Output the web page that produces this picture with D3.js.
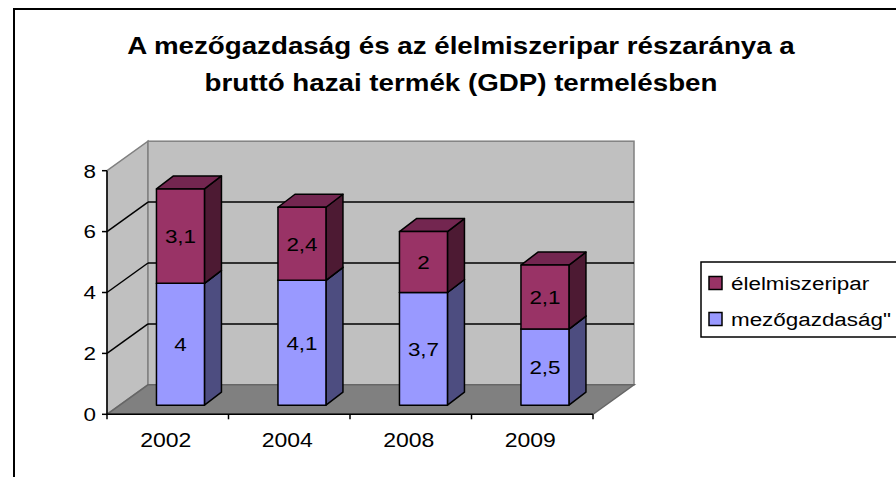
<!DOCTYPE html>
<html>
<head>
<meta charset="utf-8">
<script src="https://cdn.jsdelivr.net/npm/d3@7"></script>
<style>
  html, body { margin: 0; padding: 0; background: #fff; }
  svg { display: block; font-family: Arial, "Liberation Sans", sans-serif; }
</style>
</head>
<body>
<div id="chart"></div>
<script>
// adatok
const years = ["2002", "2004", "2008", "2009"];
const mezogazdasag = [4, 4.1, 3.7, 2.5];
const elelmiszeripar = [3.1, 2.4, 2, 2.1];
const seriesKeys = ["mezogazdasag", "elelmiszeripar"];
const legendLabels = ["élelmiszeripar", "mezőgazdaság\""];
const yTicks = [0, 2, 4, 6, 8];
const titleLines = ["A mezőgazdaság és az élelmiszeripar részaránya a", "bruttó hazai termék (GDP) termelésben"];

const W = 896, H = 477;
const DX = 41, DY = 29.5;          // falmélység
const barF0 = 0.31;                // oszlop elülső síkja
const barDX = 17, barDY = 13;      // oszlop mélysége
const SX = 1.18;                   // a képen a szöveg vízszintesen nyújtott

const colors = {
    mezogazdasag:   { front: "#9999FF", side: "#4D4D80", top: "#7A7ACC" },
    elelmiszeripar: { front: "#993366", side: "#4D1A33", top: "#732650" }
};

const svg = d3.select("#chart").append("svg").attr("width", W).attr("height", H);

// nyújtott szöveg elhelyezése
const place = (px, py) => `translate(${px},${py}) scale(${SX},1)`;

// külső keret
svg.append("rect").attr("x", 14).attr("y", 9).attr("width", 1000).attr("height", 600)
    .attr("fill", "#fff").attr("stroke", "#000").attr("stroke-width", 2);

const x = d3.scaleBand().domain(years).range([107, 593]).paddingInner(0.605).paddingOuter(0.3025);
const y = d3.scaleLinear().domain([0, 8]).range([414.3, 170.7]);

const x0 = x.range()[0], x1 = x.range()[1];
const yb = y(0), yt = y(8);
const line = d3.line();

// oldalfal
svg.append("path")
    .attr("d", line([[x0, yb], [x0, yt], [x0 + DX, yt - DY], [x0 + DX, yb - DY]]) + "Z")
    .attr("fill", "#c0c0c0").attr("stroke", "#808080").attr("stroke-width", 1.5);
// hátsó fal
svg.append("rect").attr("x", x0 + DX).attr("y", yt - DY).attr("width", x1 - x0).attr("height", yb - yt)
    .attr("fill", "#c0c0c0").attr("stroke", "#808080").attr("stroke-width", 1.5);
// padló
svg.append("path")
    .attr("d", line([[x0, yb], [x1, yb], [x1 + DX, yb - DY], [x0 + DX, yb - DY]]) + "Z")
    .attr("fill", "#808080").attr("stroke", "#666").attr("stroke-width", 1.5);

// rácsvonalak
const gridTicks = yTicks.filter(t => t > 0 && t < 8);
svg.selectAll(".grid-back").data(gridTicks).enter().append("line")
    .attr("x1", x0 + DX).attr("x2", x1 + DX)
    .attr("y1", d => y(d) - DY).attr("y2", d => y(d) - DY)
    .attr("stroke", "#000").attr("stroke-width", 1.5);
svg.selectAll(".grid-side").data(gridTicks).enter().append("line")
    .attr("x1", x0).attr("x2", x0 + DX)
    .attr("y1", d => y(d)).attr("y2", d => y(d) - DY)
    .attr("stroke", "#000").attr("stroke-width", 1.5);

// tengelyek
svg.append("line").attr("x1", x0).attr("x2", x0).attr("y1", yb).attr("y2", yt)
    .attr("stroke", "#000").attr("stroke-width", 1.5);
svg.append("line").attr("x1", x0).attr("x2", x1).attr("y1", yb).attr("y2", yb)
    .attr("stroke", "#000").attr("stroke-width", 1.5);

svg.selectAll(".ytick").data(yTicks).enter().append("line")
    .attr("x1", x0 - 5).attr("x2", x0).attr("y1", d => y(d)).attr("y2", d => y(d))
    .attr("stroke", "#000").attr("stroke-width", 1.5);
svg.selectAll(".ylabel").data(yTicks).enter().append("text")
    .attr("transform", d => place(96, y(d))).attr("dy", "0.36em")
    .attr("text-anchor", "end").style("font-size", "19px").text(d => d);

const xBounds = d3.range(years.length + 1).map(i => x0 + i * x.step());
svg.selectAll(".xtick").data(xBounds).enter().append("line")
    .attr("x1", d => d).attr("x2", d => d).attr("y1", yb).attr("y2", yb + 5)
    .attr("stroke", "#000").attr("stroke-width", 1.5);
svg.selectAll(".xlabel").data(years).enter().append("text")
    .attr("transform", d => place(x(d) + x.bandwidth() / 2 - 2, 447))
    .attr("text-anchor", "middle").style("font-size", "19.5px")
    .text(d => d);

// halmozott oszlopok
const rows = years.map((yr, i) => ({ year: yr, mezogazdasag: mezogazdasag[i], elelmiszeripar: elelmiszeripar[i] }));
const stacked = d3.stack().keys(seriesKeys)(rows);

const bars = svg.append("g");
rows.forEach((row, i) => {
    stacked.forEach(layer => {
        const seg = layer[i];
        const c = colors[layer.key];
        const fx0 = x(row.year) + barF0 * DX;
        const fx1 = fx0 + x.bandwidth();
        const fyTop = y(seg[1]) - barF0 * DY;
        const fyBot = y(seg[0]) - barF0 * DY;
        const g = bars.append("g").attr("stroke", "#000").attr("stroke-width", 1.5).attr("stroke-linejoin", "round");
        g.append("path")
            .attr("d", line([[fx1, fyTop], [fx1 + barDX, fyTop - barDY], [fx1 + barDX, fyBot - barDY], [fx1, fyBot]]) + "Z")
            .attr("fill", c.side);
        g.append("path")
            .attr("d", line([[fx0, fyTop], [fx0 + barDX, fyTop - barDY], [fx1 + barDX, fyTop - barDY], [fx1, fyTop]]) + "Z")
            .attr("fill", c.top);
        g.append("rect").attr("x", fx0).attr("y", fyTop).attr("width", fx1 - fx0).attr("height", fyBot - fyTop)
            .attr("fill", c.front);
        bars.append("text")
            .attr("transform", place((fx0 + fx1) / 2, (fyTop + fyBot) / 2)).attr("dy", "0.36em")
            .attr("text-anchor", "middle").style("font-size", "19px")
            .text(String(row[layer.key]).replace(".", ","));
    });
});

// jelmagyarázat
const legend = svg.append("g");
legend.append("rect").attr("x", 701).attr("y", 262).attr("width", 300).attr("height", 75)
    .attr("fill", "#fff").attr("stroke", "#000").attr("stroke-width", 1.5);
const legendKeys = ["elelmiszeripar", "mezogazdasag"];
legendKeys.forEach((k, i) => {
    const cy = 283 + i * 36;
    legend.append("rect").attr("x", 709).attr("y", cy - 6.5).attr("width", 13).attr("height", 13)
        .attr("fill", colors[k].front).attr("stroke", "#000").attr("stroke-width", 1.5);
    legend.append("text").attr("transform", place(731, cy)).attr("dy", "0.36em")
        .style("font-size", "19px").text(legendLabels[i]);
});

// cím
svg.selectAll(".title").data(titleLines).enter().append("text")
    .attr("transform", (d, i) => place(461, 54 + i * 37))
    .attr("text-anchor", "middle").style("font-size", "23.5px").style("font-weight", "bold")
    .text(d => d);
</script>
</body>
</html>
